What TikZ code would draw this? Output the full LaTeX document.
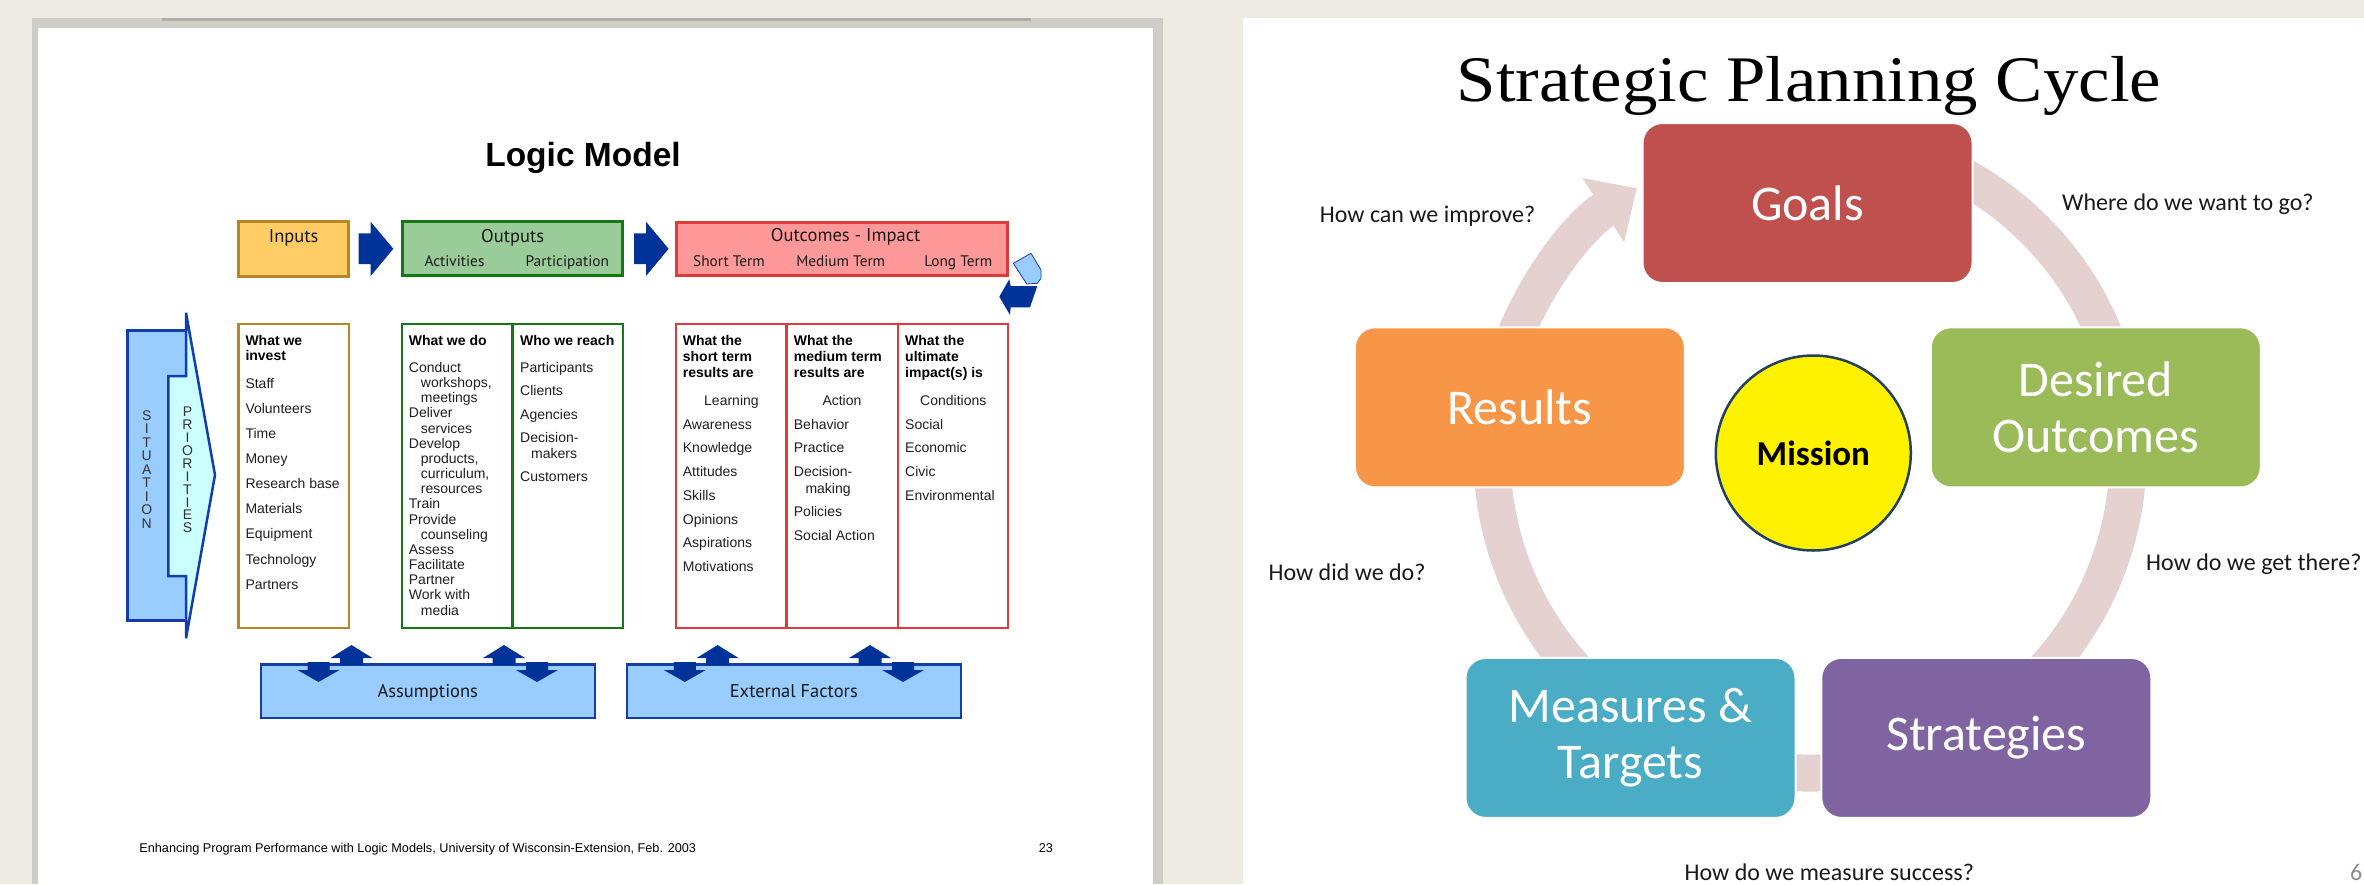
\documentclass[tikz,border=0pt]{standalone}
\usepackage{fontspec}
\usepackage{graphicx}
\setmainfont{Liberation Sans}
\newfontfamily\arialf{Liberation Sans}
\newfontfamily\myriadf{PT Sans}
\newfontfamily\calibrif{Carlito}
\newfontfamily\cambriaf{Liberation Serif}
\usetikzlibrary{arrows.meta,calc}

\definecolor{bgbeige}{RGB}{238,235,226}
\definecolor{pageframe}{RGB}{206,206,201}
\definecolor{inFill}{RGB}{255,204,102}
\definecolor{inLine}{RGB}{184,134,40}
\definecolor{outFill}{RGB}{153,204,153}
\definecolor{outLine}{RGB}{20,120,20}
\definecolor{ocFill}{RGB}{255,153,153}
\definecolor{ocLine}{RGB}{222,58,58}
\definecolor{navy}{RGB}{0,51,153}
\definecolor{ltblue}{RGB}{153,204,255}
\definecolor{ltcyan}{RGB}{204,255,255}
\definecolor{bluLine}{RGB}{20,60,170}
\definecolor{goalsC}{RGB}{192,80,77}
\definecolor{desC}{RGB}{155,187,89}
\definecolor{strC}{RGB}{128,100,162}
\definecolor{measC}{RGB}{75,172,198}
\definecolor{resC}{RGB}{247,150,70}
\definecolor{ringC}{RGB}{230,209,209}
\definecolor{missLine}{RGB}{36,63,96}

\tikzset{
  lm/.style={anchor=base west, inner sep=0pt, font=\arialf\fontsize{14}{16}\selectfont, text=black!88},
  lmb/.style={anchor=base west, inner sep=0pt, font=\arialf\bfseries\fontsize{14}{16}\selectfont, text=black},
  hdr/.style={anchor=base, inner sep=0pt, font=\myriadf\fontsize{18.5}{20}\selectfont, text=black!90},
  subhdr/.style={anchor=base, inner sep=0pt, font=\myriadf\fontsize{15.3}{17}\selectfont, text=black!90},
  topbox/.style={draw, line width=3pt, inner sep=0pt},
  detbox/.style={draw, fill=white, line width=2.5pt, inner sep=0pt, minimum height=304pt},
  factbox/.style={draw=bluLine, fill=ltblue, line width=2.5pt, inner sep=0pt, minimum width=334pt, minimum height=53.5pt},
  vletters/.style={inner sep=0pt, align=center, text=black!80},
  cyc/.style={rounded corners=20pt, minimum width=330pt, minimum height=160pt, inner sep=0pt,
    text=white, font=\calibrif\fontsize{50}{56}\selectfont, align=center, draw=white, line width=2pt},
  qtext/.style={anchor=base west, inner sep=0pt, font=\calibrif\fontsize{24}{28}\selectfont, text=black!90},
  uparr/.pic={\fill[navy] (-11.5,20) -- (-11.5,13) -- (-21,13) -- (0,0) -- (21,13) -- (11.5,13) -- (11.5,20) -- cycle;},
  dnarr/.pic={\fill[navy] (-11,0) -- (11,0) -- (11,8) -- (21,8) -- (0,20) -- (-21,8) -- (-11,8) -- cycle;},
}

\begin{document}
\begin{tikzpicture}[x=1pt,y=-1pt]
\useasboundingbox (0,0) rectangle (2364,884);
\clip (0,0) rectangle (2364,884);
\fill[bgbeige] (0,0) rectangle (2364,884);

% ---------------- left page ----------------
\fill[pageframe] (32,18) rectangle (1163,884);
\fill[black!32] (162,18) rectangle (1031,21);
\fill[white] (38,28) rectangle (1153,884);

\node[anchor=base, inner sep=0pt, font=\arialf\bfseries\fontsize{33.5}{36}\selectfont] (lmtitle) at (583,166) {Logic Model};

% top row boxes
\node[topbox, draw=inLine, fill=inFill, minimum width=110pt, minimum height=55pt] (inputs) at (293.65,248.85) {};
\node[topbox, draw=outLine, fill=outFill, minimum width=220pt, minimum height=54pt] (outputs) at (512.65,248.65) {};
\node[topbox, draw=ocLine, fill=ocFill, minimum width=331pt, minimum height=53pt] (outcomes) at (842.15,248.7) {};

\node[hdr] (tInputs) at (293.7,242.3) {Inputs};
\node[hdr] (tOutputs) at (512.7,242.3) {Outputs};
\node[subhdr] (tAct) at (454.5,266.7) {Activities};
\node[subhdr] (tPart) at (567.3,266.7) {Participation};
\node[hdr] (tOutcomes) at (845.7,241.7) {Outcomes - Impact};
\node[subhdr] (tShort) at (729,266.7) {Short Term};
\node[subhdr] (tMed) at (840.7,266.7) {Medium Term};
\node[subhdr] (tLong) at (958.3,266.7) {Long Term};

% blue right arrows
\fill[navy] (358.7,233.3) -- (370.7,233.3) -- (370.7,221.7) -- (393.3,248.8) -- (370.7,276) -- (370.7,264) -- (358.7,264) -- cycle;
\fill[navy] (634,233.3) -- (646,233.3) -- (646,221.7) -- (668.6,248.8) -- (646,276) -- (646,264) -- (634,264) -- cycle;

% recycle arrow at right
\filldraw[fill=ltblue, draw=bluLine, line width=0.8pt] (1013.3,263.3) -- (1031,253.3) -- (1041,270) -- (1041,278.3) -- (1037.3,283.3) -- (1026.7,284) -- cycle;
\fill[navy] (999.3,296.7) -- (1009.3,279.3) -- (1010.7,286) -- (1037.3,286) -- (1030,307.3) -- (1010.7,307.3) -- (1010,315) -- cycle;

% situation / priorities
\filldraw[fill=ltblue, draw=bluLine, line width=2.5pt] (127.3,330.7) rectangle (186,620.7);
\filldraw[fill=ltcyan, draw=bluLine, line width=2.5pt, line join=miter] (168.3,376) -- (186,376) -- (186,312.7) -- (215,475) -- (186,638.3) -- (186,576) -- (168.3,576) -- cycle;
\node[vletters, font=\arialf\fontsize{14}{13.5}\selectfont] (situation) at (146.7,469.2) {S\\I\\T\\U\\A\\T\\I\\O\\N};
\node[vletters, font=\arialf\fontsize{14}{12.9}\selectfont] (priorities) at (187.5,470) {P\\R\\I\\O\\R\\I\\T\\I\\E\\S};

% detail boxes
\node[detbox, draw=inLine, minimum width=110.5pt] (indet) at (293.65,475.8) {};
\node[detbox, draw=outLine, minimum width=221pt] (outdet) at (512.65,475.8) {};
\node[detbox, draw=ocLine, minimum width=332pt] (ocdet) at (842.15,475.8) {};
\draw[outLine, line width=2.5pt] (outdet.north) -- (outdet.south);
\draw[ocLine, line width=2.5pt] ($(ocdet.north west)!1/3!(ocdet.north east)$) -- ($(ocdet.south west)!1/3!(ocdet.south east)$);
\draw[ocLine, line width=2.5pt] ($(ocdet.north west)!2/3!(ocdet.north east)$) -- ($(ocdet.south west)!2/3!(ocdet.south east)$);

% bold headings
\foreach \xx/\yy/\tx [count=\k] in {245.3/345/What we, 245.3/360.7/invest, 408.7/345/What we do, 520/345/Who we reach,
  682.7/345/What the, 682.7/361/short term, 682.7/377.7/results are,
  793.7/345/What the, 793.7/361/medium term, 793.7/377.7/results are,
  905/345/What the, 905/361/ultimate, 905/377.7/impact(s) is}
  {\node[lmb] (hd\k) at (\xx,\yy) {\tx};}

% inputs list
\foreach \yy/\tx [count=\k] in {388.3/Staff, 413.4/Volunteers, 438.5/Time, 463.6/Money, 488.7/Research base,
  513.8/Materials, 538.9/Equipment, 564/Technology, 589.1/Partners}
  {\node[lm] (inv\k) at (245.3,\yy) {\tx};}

% outputs: activities
\foreach \xx/\yy/\tx [count=\k] in {408.7/372.3/Conduct, 420.7/387.5/{workshops,}, 420.7/402.6/meetings, 408.7/417.8/Deliver,
  420.7/433/services, 408.7/448.1/Develop, 420.7/463.3/{products,}, 420.7/478.5/{curriculum,}, 420.7/493.6/resources,
  408.7/508.8/Train, 408.7/524/Provide, 420.7/539.1/counseling, 408.7/554.3/Assess, 408.7/569.4/Facilitate,
  408.7/584.6/Partner, 408.7/599.8/Work with, 420.7/615/media}
  {\node[lm] (act\k) at (\xx,\yy) {\tx};}

% outputs: participation
\foreach \xx/\yy/\tx [count=\k] in {520/372.3/Participants, 520/395.7/Clients, 520/419.3/Agencies, 520/442.7/Decision-,
  531/458.3/makers, 520/481.7/Customers}
  {\node[lm] (par\k) at (\xx,\yy) {\tx};}

% outcomes
\foreach \xx/\yy/\tx [count=\k] in {704/405/Learning, 682.7/429/Awareness, 682.7/452.7/Knowledge, 682.7/476/Attitudes,
  682.7/500/Skills, 682.7/524/Opinions, 682.7/547.3/Aspirations, 682.7/571/Motivations}
  {\node[lm] (st\k) at (\xx,\yy) {\tx};}
\foreach \xx/\yy/\tx [count=\k] in {822.3/405/Action, 793.7/429/Behavior, 793.7/452.7/Practice, 793.7/476/Decision-,
  805.3/493.3/making, 793.7/516.7/Policies, 793.7/540/Social Action}
  {\node[lm] (mt\k) at (\xx,\yy) {\tx};}
\foreach \xx/\yy/\tx [count=\k] in {920/405/Conditions, 905/429/Social, 905/452.7/Economic, 905/476/Civic, 905/500/Environmental}
  {\node[lm] (lt\k) at (\xx,\yy) {\tx};}

% assumptions / external factors
\node[factbox] (assump) at (427.8,691.3) {};
\node[factbox] (extf) at (793.8,691.3) {};
\node[hdr] (tAssump) at (427.8,697) {Assumptions};
\node[hdr] (tExt) at (793.8,697.3) {External Factors};
\pic at (351.5,645) {uparr};
\pic at (318.5,662) {dnarr};
\pic at (504,645) {uparr};
\pic at (537,662) {dnarr};
\pic at (717.6,645) {uparr};
\pic at (684.8,662) {dnarr};
\pic at (870,645) {uparr};
\pic at (903,662) {dnarr};

% footer
\node[anchor=base west, inner sep=0pt, font=\arialf\fontsize{12.7}{14}\selectfont] (footer) at (139.2,852.7)
  {Enhancing Program Performance with Logic Models, University of Wisconsin-Extension, Feb. 2003};
\node[anchor=base, inner sep=0pt, font=\arialf\fontsize{12.7}{14}\selectfont] (pg23) at (1045.9,852.7) {23};

% ---------------- right page ----------------
\fill[white] (1243,18) rectangle (2364,884);

\node[anchor=base, inner sep=0pt, font=\cambriaf\fontsize{65}{70}\selectfont] (sptitle) at (1808.9,101.7)
  {\scalebox{1.09}[1]{Strategic Planning Cycle}};

% ring arrow (behind boxes)
\draw[ringC, line width=37pt, -{Triangle[width=74pt,length=40pt]}]
  (1810,455) ++(-70:318) arc[start angle=-70, end angle=237, radius=318];

\node[cyc, fill=goalsC] (goals) at (1807.5,203) {Goals};
\node[cyc, fill=desC] (desired) at (2095.8,407.3) {Desired\\Outcomes};
\node[cyc, fill=strC] (strategies) at (1986.3,737.9) {Strategies};
\node[cyc, fill=measC] (measures) at (1630.5,737.9) {Measures \&\\Targets};
\node[cyc, fill=resC] (results) at (1519.9,407.3) {Results};

\node[circle, fill=yellow, draw=missLine, line width=2.5pt, minimum size=195pt, inner sep=0pt,
  font=\calibrif\bfseries\fontsize{35}{40}\selectfont] (mission) at (1813.3,453) {Mission};

\node[qtext] (q1) at (1319.7,222) {How can we improve?};
\node[qtext] (q2) at (2062,210.7) {Where do we want to go?};
\node[qtext] (q3) at (1268.4,580) {How did we do?};
\node[qtext] (q4) at (2146,570) {How do we get there?};
\node[qtext] (q5) at (1684.5,880) {How do we measure success?};
\node[qtext, text=black!45] (pg6) at (2350,880) {6};
\end{tikzpicture}
\end{document}
